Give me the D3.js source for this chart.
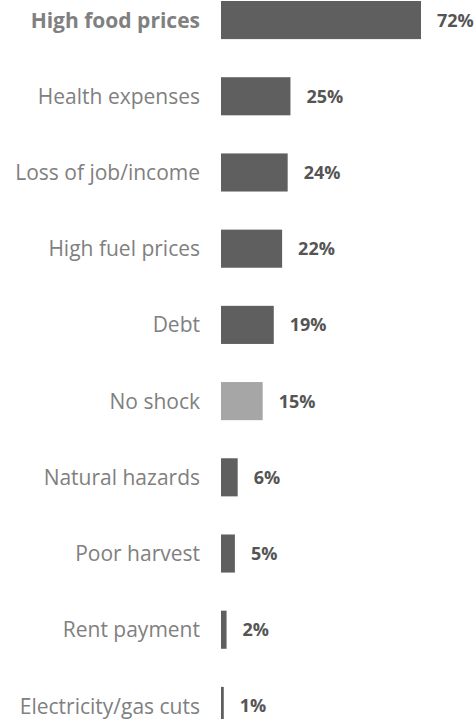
<!DOCTYPE html>
<html>
<head>
<meta charset="utf-8">
<script src="https://cdn.jsdelivr.net/npm/d3@7"></script>
<style>
  html, body { margin: 0; padding: 0; background: #ffffff; }
  svg { display: block; }
</style>
</head>
<body>
<script>
const categories = ["High food prices", "Health expenses", "Loss of job/income", "High fuel prices", "Debt", "No shock", "Natural hazards", "Poor harvest", "Rent payment", "Electricity/gas cuts"];
const values = [72, 25, 24, 22, 19, 15, 6, 5, 2, 1];
const valueLabels = ["72%", "25%", "24%", "22%", "19%", "15%", "6%", "5%", "2%", "1%"];
const highlighted = ["High food prices"];
const neutral = ["No shock"];

const W = 476, H = 719;
const svg = d3.select("body").append("svg").attr("width", W).attr("height", H);

const data = categories.map((c, i) => ({ c, v: values[i], label: valueLabels[i] }));

const x = d3.scaleLinear().domain([0, 72]).range([221, 421]);
const y = d3.scaleBand().domain(categories).range([1, 725]).paddingInner(0.5).paddingOuter(0);

svg.selectAll("rect.bar").data(data).join("rect")
  .attr("class", "bar")
  .attr("x", x(0))
  .attr("y", d => y(d.c))
  .attr("width", d => x(d.v) - x(0))
  .attr("height", y.bandwidth())
  .attr("fill", d => neutral.includes(d.c) ? "#a6a6a6" : "#5f5f5f");

svg.selectAll("text.cat").data(data).join("text")
  .attr("class", "cat")
  .attr("x", 200)
  .attr("y", d => y(d.c) + y.bandwidth() / 2)
  .attr("dy", "0.36em")
  .attr("text-anchor", "end")
  .attr("font-family", "'Open Sans', sans-serif")
  .attr("font-size", 21)
  .attr("font-weight", d => highlighted.includes(d.c) ? 700 : 400)
  .attr("fill", "#808080")
  .text(d => d.c);

svg.selectAll("text.val").data(data).join("text")
  .attr("class", "val")
  .attr("x", d => x(d.v) + 16)
  .attr("y", d => y(d.c) + y.bandwidth() / 2)
  .attr("dy", "0.36em")
  .attr("font-family", "'Open Sans', sans-serif")
  .attr("font-size", 18)
  .attr("font-weight", 700)
  .attr("fill", "#555555")
  .text(d => d.label);
</script>
</body>
</html>
